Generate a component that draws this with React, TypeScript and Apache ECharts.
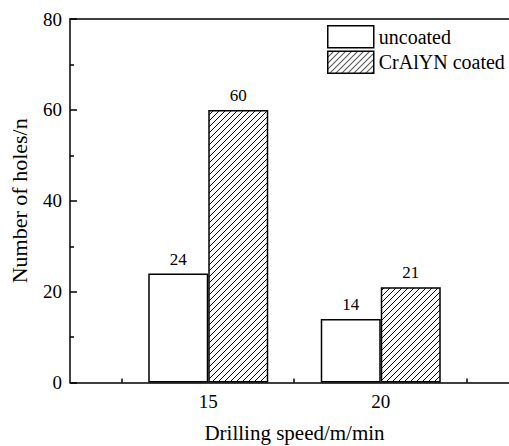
import React, { useEffect, useRef } from "react";
import * as echarts from "echarts";

const categories = ["15", "20"];
const uncoated = [24, 14];
const coated = [60, 21];
const seriesNames = ["uncoated", "CrAlYN coated"];
const yTicks = [0, 20, 40, 60, 80];
const xTickPositions = [12.5, 17.5, 22.5];

const FONT = "Liberation Serif";

function makeHatch(): HTMLCanvasElement {
  const w = 6;
  const h = 6;
  const c = document.createElement("canvas");
  c.width = w;
  c.height = h;
  const ctx = c.getContext("2d")!;
  ctx.fillStyle = "#fff";
  ctx.fillRect(0, 0, w, h);
  ctx.strokeStyle = "#000";
  ctx.lineWidth = 1;
  for (let k = -1; k <= 1; k++) {
    ctx.beginPath();
    ctx.moveTo(k * w, h);
    ctx.lineTo(k * w + w, 0);
    ctx.stroke();
  }
  return c;
}

export default function App() {
  const ref = useRef<HTMLDivElement>(null);
  useEffect(() => {
    if (!ref.current) return;
    const chart = echarts.init(ref.current, null, { renderer: "svg" });
    const hatch = makeHatch();
    const top = 19;
    const bottom = 63.4;
    const lineStyle = { color: "#000", width: 1.5 };
    const labelStyle = {
      show: true,
      position: "top",
      distance: 6,
      fontFamily: FONT,
      fontSize: 17,
      color: "#000",
    };
    chart.setOption({
      animation: false,
      backgroundColor: "#fff",
      textStyle: { fontFamily: FONT, color: "#000" },
      grid: [
        { left: 70, top, bottom, right: 0, outerBoundsMode: "none", containLabel: false },
        { left: 122, top, bottom, width: 345, outerBoundsMode: "none", containLabel: false },
      ],
      legend: {
        left: 327,
        top: 25,
        padding: 0,
        orient: "vertical",
        itemWidth: 46,
        itemHeight: 22,
        itemGap: 2,
        icon: "rect",
        data: seriesNames,
        textStyle: { fontFamily: FONT, fontSize: 20, color: "#000" },
        itemStyle: { borderColor: "#000", borderWidth: 1.5 },
      },
      xAxis: [
        {
          type: "value",
          gridIndex: 0,
          position: "bottom",
          min: 11,
          max: 23.74,
          axisLine: { show: true, lineStyle },
          axisTick: {
            show: true,
            inside: true,
            length: 4,
            customValues: xTickPositions,
            lineStyle,
          },
          axisLabel: { show: false },
          splitLine: { show: false },
        },
        {
          type: "value",
          gridIndex: 0,
          position: "top",
          min: 11,
          max: 23.74,
          axisLine: { show: true, lineStyle },
          axisTick: { show: false },
          axisLabel: { show: false },
          splitLine: { show: false },
        },
        {
          type: "category",
          gridIndex: 1,
          data: categories,
          name: "Drilling speed/m/min",
          nameLocation: "middle",
          nameGap: 40,
          nameTextStyle: { fontFamily: FONT, fontSize: 21, color: "#000" },
          axisLine: { show: false },
          axisTick: { show: false },
          axisLabel: {
            show: true,
            margin: 9,
            fontFamily: FONT,
            fontSize: 19,
            color: "#000",
          },
          splitLine: { show: false },
        },
      ],
      yAxis: [
        {
          type: "value",
          gridIndex: 0,
          min: yTicks[0],
          max: yTicks[yTicks.length - 1],
          interval: 20,
          name: "Number of holes/n",
          nameLocation: "middle",
          nameGap: 40,
          nameTextStyle: { fontFamily: FONT, fontSize: 22, color: "#000" },
          axisLine: { show: true, lineStyle },
          axisTick: { show: true, inside: true, length: 7, lineStyle },
          minorTick: { show: true, splitNumber: 2, length: 4, lineStyle },
          axisLabel: {
            margin: 8,
            fontFamily: FONT,
            fontSize: 19,
            color: "#000",
          },
          splitLine: { show: false },
          minorSplitLine: { show: false },
        },
        {
          type: "value",
          gridIndex: 1,
          min: 0,
          max: 80,
          show: false,
          splitLine: { show: false },
        },
      ],
      series: [
        {
          name: seriesNames[0],
          type: "bar",
          xAxisIndex: 2,
          yAxisIndex: 1,
          data: uncoated,
          barWidth: 60,
          barGap: "0%",
          itemStyle: { color: "#fff", borderColor: "#000", borderWidth: 1.5 },
          label: labelStyle,
        },
        {
          name: seriesNames[1],
          type: "bar",
          xAxisIndex: 2,
          yAxisIndex: 1,
          data: coated,
          barWidth: 60,
          barGap: "0%",
          itemStyle: {
            color: { image: hatch, repeat: "repeat" },
            borderColor: "#000",
            borderWidth: 1.5,
          },
          label: labelStyle,
        },
      ],
    });
    return () => chart.dispose();
  }, []);
  return <div ref={ref} style={{ width: 509, height: 446, position: "absolute", left: 0, top: 0 }} />;
}
